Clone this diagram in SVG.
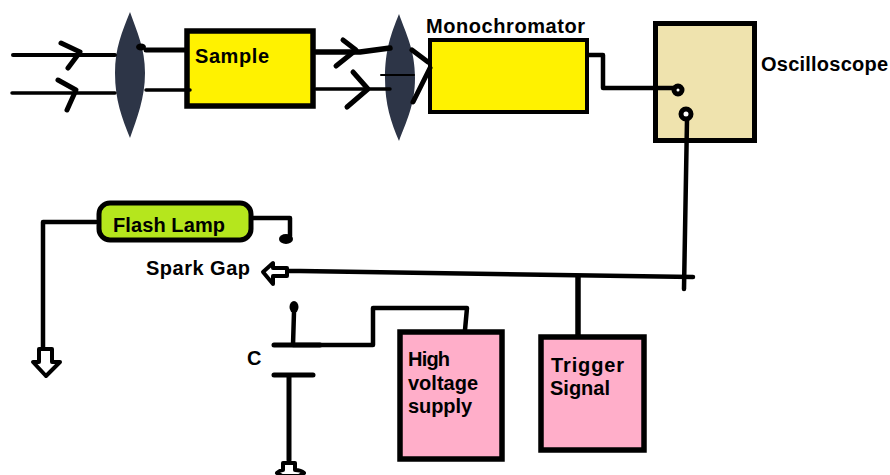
<svg xmlns="http://www.w3.org/2000/svg" width="890" height="475" viewBox="0 0 890 475">
<style>
.w{fill:none;stroke:#000;stroke-linecap:round;stroke-linejoin:round}
.t{font-family:"Liberation Sans",Arial,sans-serif;font-weight:bold;font-size:20px;fill:#000}
.lens{fill:#2d3547}
.box{stroke:#000;stroke-linejoin:miter}
</style>
<rect width="890" height="475" fill="#fff"/>
<g id="lens1"><path class="lens" d="M130 12C122 32 115 48 115 73C115 100 122 118 130 138C137 118 145 98 145 73C145 48 137 32 130 12Z"/></g>
<g id="lens2"><path class="lens" d="M399 14C391 34 385 50 385 78C385 105 391 122 399 141C406 122 415 105 415 78C415 50 406 34 399 14Z"/></g>
<g id="sample"><rect class="box" x="187" y="31" width="126" height="75" fill="#fff200" stroke-width="5.5"/><text class="t" x="195" y="63" textLength="74" lengthAdjust="spacing">Sample</text></g>
<g id="monochromator"><rect class="box" x="430" y="40" width="157" height="72" fill="#fff200" stroke-width="4"/><text class="t" x="426" y="33" textLength="159" lengthAdjust="spacing">Monochromator</text></g>
<g id="oscilloscope"><rect class="box" x="655.500" y="23.500" width="99" height="117" fill="#efe3ae" stroke-width="5"/><text class="t" x="761" y="71" textLength="127" lengthAdjust="spacing">Oscilloscope</text></g>
<g id="flash-lamp"><rect x="99" y="203" width="152" height="37" rx="11" fill="#b5e61d" stroke="#000" stroke-width="5"/><text class="t" x="113" y="232" textLength="112" lengthAdjust="spacing">Flash Lamp</text></g>
<g id="spark-gap"><text class="t" x="146" y="275" textLength="104" lengthAdjust="spacing">Spark Gap</text></g>
<g id="capacitor"><text class="t" x="247" y="365">C</text></g>
<g id="high-voltage-supply"><rect class="box" x="400" y="332" width="102" height="127" fill="#ffaec9" stroke-width="5.500"/><text class="t" x="408" y="366" textLength="42" lengthAdjust="spacing">High</text><text class="t" x="408" y="390" textLength="70" lengthAdjust="spacing">voltage</text><text class="t" x="408" y="413" textLength="64" lengthAdjust="spacing">supply</text></g>
<g id="trigger-signal"><rect class="box" x="541" y="337" width="103" height="113" fill="#ffaec9" stroke-width="5.500"/><text class="t" x="551" y="372" textLength="73" lengthAdjust="spacing">Trigger</text><text class="t" x="550" y="395" textLength="60" lengthAdjust="spacing">Signal</text></g>
<g id="connectors" class="w">
<path stroke-width="4" d="M13 55H115"/>
<path stroke-width="5" d="M61 43L80 52L68 68"/>
<path stroke-width="3.500" d="M12 93H115"/>
<path stroke-width="5" d="M58 80L76 90L67 110"/>
<path stroke-width="5" d="M146 50H186"/>
<ellipse cx="141" cy="47" rx="5" ry="3.500" fill="#000" stroke="none"/>
<path stroke-width="3.500" d="M146 90H190"/>
<path stroke-width="5.500" d="M316 52H360L390 48"/>
<path stroke-width="5" d="M343 40L356 50L336 66"/>
<path stroke-width="3.500" d="M316 89H390"/>
<path stroke-width="5" d="M353 72L368 89L347 107"/>
<path stroke-width="2" d="M381 75H414"/>
<path stroke-width="5" d="M412 50L428 62M430 68L413 102"/>
<path stroke-width="4.500" d="M589 55H603V88H678"/>
<circle cx="678" cy="90" r="4" fill="#fff" stroke="#000" stroke-width="5"/>
<circle cx="686" cy="114" r="5" fill="#fff" stroke="#000" stroke-width="5"/>
<path stroke-width="4.500" d="M687 120L684 289"/>
<path stroke-width="4.500" d="M693 277L300 271H287"/>
<path stroke-width="4" fill="#fff" d="M263 272L273 263V268H287V276H273V284Z"/>
<path stroke-width="5.500" d="M578 277V335"/>
<path stroke-width="4.500" d="M465 330L467 308H373V345H293L294 312"/>
<ellipse cx="294" cy="307" rx="4.500" ry="6" fill="#000" stroke="none"/>
<path stroke-width="5" d="M274 345H320M274 375H313M289 375V460"/>
<path stroke-width="4.500" d="M253 218H290V236"/>
<ellipse cx="286" cy="239" rx="7" ry="5" fill="#000" stroke="none"/>
<path stroke-width="4.500" d="M96 222H43V348"/>
<path stroke-width="4" fill="#fff" d="M39 349H52V362H60L46 376L33 362H39Z"/>
<path stroke-width="4" fill="#fff" d="M283 463H295V470C299 470 302 471 304 473L299 476H282L277 473C279 471 281 470 283 470Z"/>
</g>
</svg>
